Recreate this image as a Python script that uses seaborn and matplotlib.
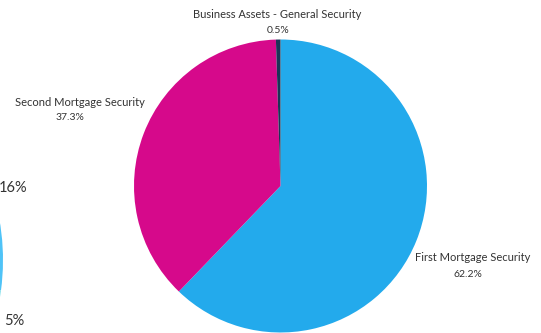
import matplotlib
matplotlib.use("Agg")
import matplotlib.pyplot as plt
import seaborn as sns

sns.set_theme(style="white")
plt.rcParams['font.family'] = ['Lato', 'DejaVu Sans']

# Main chart data
categories = ["First Mortgage Security", "Second Mortgage Security", "Business Assets - General Security"]
values = [62.2, 37.3, 0.5]
colors = ["#23AAEC", "#D6098B", "#1B3557"]

# Partially visible neighbouring chart (cut off at the left edge)
left_values = [16, 5, 79]
left_labels = ["16%", "5%"]
left_colors = ["#4FC3F7", "#80DEEA", "#29B6F6"]

W, H = 541, 333
fig = plt.figure(figsize=(W / 100, H / 100), dpi=100)

def px_axes(cx, cy, r):
    return fig.add_axes([(cx - r) / W, 1 - (cy + r) / H, 2 * r / W, 2 * r / H])

# left partial pie
axl = px_axes(-227, 260, 230)
axl.pie(left_values, colors=left_colors, startangle=50, counterclock=False,
        wedgeprops=dict(linewidth=0))
axl.set_xlim(-1, 1); axl.set_ylim(-1, 1); axl.set_aspect("equal"); axl.axis("off")

# main pie
ax = px_axes(280.5, 186, 146.5)
ax.pie(values, colors=colors, startangle=90, counterclock=False,
       wedgeprops=dict(linewidth=0))
ax.set_xlim(-1, 1); ax.set_ylim(-1, 1); ax.set_aspect("equal"); ax.axis("off")

# label anchor points (name x, name baseline, pct x, pct baseline) in pixels
label_pos = [(472.5, 261, 468, 277), (79.5, 105.5, 70, 120.5), (277.5, 18, 278, 33)]
for name, v, (nx, ny, px, py) in zip(categories, values, label_pos):
    fig.text(nx / W, 1 - ny / H, name, ha="center", va="baseline",
             fontsize=8, color="#333333")
    fig.text(px / W, 1 - py / H, f"{v}%", ha="center", va="baseline",
             fontsize=7.5, color="#333333")

fig.text(13 / W, 1 - 188 / H, left_labels[0], ha="center", va="center", fontsize=10.5, color="#333333")
fig.text(14 / W, 1 - 321 / H, left_labels[1], ha="center", va="center", fontsize=10.5, color="#333333")

fig.savefig("out.png", dpi=100)
